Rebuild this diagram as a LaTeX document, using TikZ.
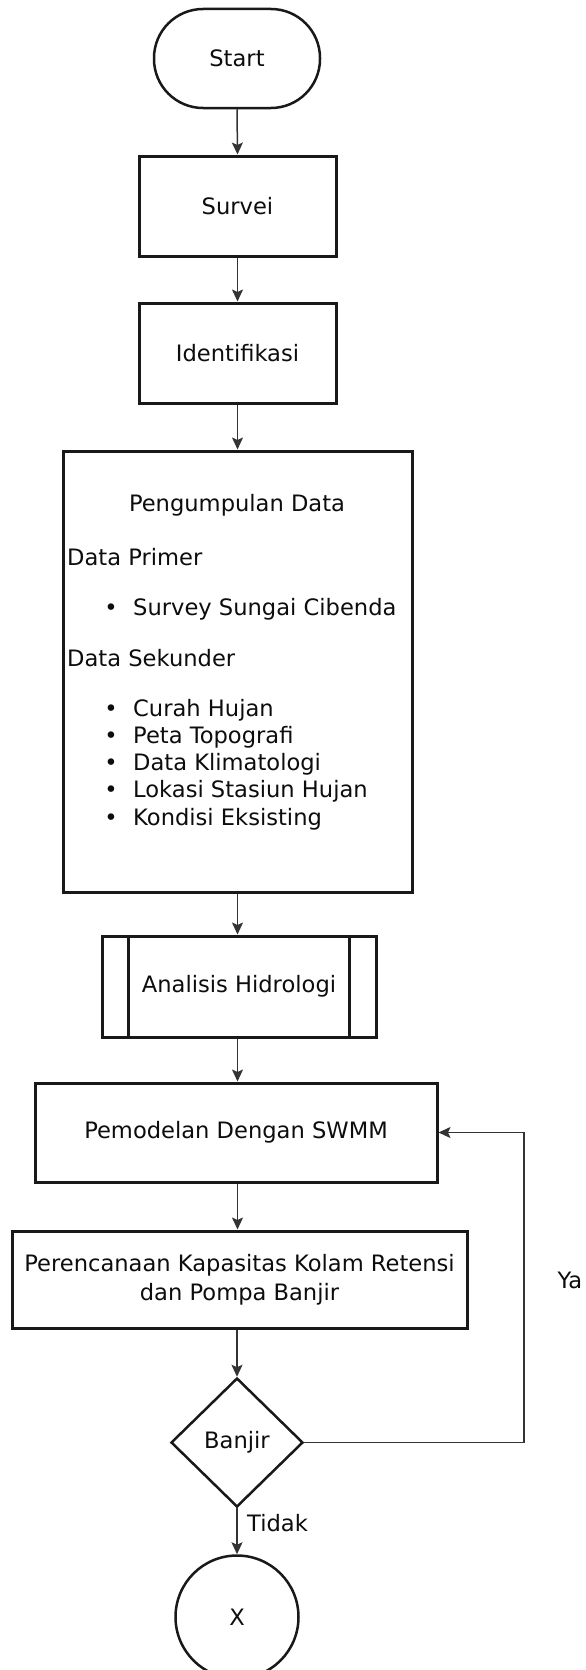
\documentclass[tikz,border=0pt]{standalone}
\usepackage{fontspec}
\setmainfont{DejaVu Sans}
\usetikzlibrary{shapes.geometric,arrows.meta,calc}
\begin{document}
\begin{tikzpicture}[x=1pt,y=-1pt,
  every node/.style={font=\fontsize{22.6}{27.3}\selectfont, text=black!95},
  boxnode/.style={draw=black!90, rectangle, line width=3pt, inner sep=0pt},
  conn/.style={line width=1.5pt, draw=black!80, -{Stealth[length=12pt,width=11pt,inset=2.5pt]}},
  txt/.style={inner sep=0pt, anchor=base west},
  bul/.style={inner sep=0pt, anchor=base}
]
\useasboundingbox (0,0) rectangle (586,1670);
\clip (0,0) rectangle (586,1670);
\fill[white] (0,0) rectangle (586,1670);

% nodes
\node[draw=black!90, line width=2.5pt, rectangle, rounded corners=49pt,
      minimum width=166pt, minimum height=99pt, inner sep=0pt] (st) at (237,58.5) {Start};
\node[boxnode, minimum width=197pt, minimum height=100pt] (sv) at (237.5,206) {Survei};
\node[boxnode, minimum width=197pt, minimum height=100pt] (id) at (237.5,353) {Identifikasi};
\node[boxnode, minimum width=349pt, minimum height=441pt] (pd) at (237.5,671.5) {};
\node[boxnode, minimum width=274pt, minimum height=101pt] (ah) at (239,986.5) {Analisis Hidrologi};
\draw[line width=3pt, draw=black!90] ($(ah.north west)+(28,1.5)$) -- ($(ah.south west)+(28,-1.5)$);
\draw[line width=3pt, draw=black!90] ($(ah.north east)+(-28,1.5)$) -- ($(ah.south east)+(-28,-1.5)$);
\node[boxnode, minimum width=402pt, minimum height=99pt] (pm) at (236,1132.5) {Pemodelan Dengan SWMM};
\node[boxnode, minimum width=455pt, minimum height=97pt, align=center] (pk) at (239.5,1279.5)
  {Perencanaan Kapasitas Kolam Retensi\\[2pt]dan Pompa Banjir};
\node[draw=black!90, line width=2.5pt, diamond, minimum width=132pt, minimum height=129pt, inner sep=0pt] (dec) at (237,1442.5) {Banjir};
\node[draw=black!90, line width=2.5pt, circle, minimum size=123pt, inner sep=0pt] (xc) at (237,1617) {X};

% text inside Pengumpulan Data
\node[bul] (t0) at (237,511) {Pengumpulan Data};
\node[txt] (t1) at (67,565) {Data Primer};
\node[bul] (b1) at (111,615) {•};
\node[txt] (t2) at (133,615) {Survey Sungai Cibenda};
\node[txt] (t3) at (67,666) {Data Sekunder};
\node[bul] (b2) at (111,716) {•};
\node[txt] (t4) at (133,716) {Curah Hujan};
\node[bul] (b3) at (111,743.3) {•};
\node[txt] (t5) at (133,743.3) {Peta Topografi};
\node[bul] (b4) at (111,770.6) {•};
\node[txt] (t6) at (133,770.6) {Data Klimatologi};
\node[bul] (b5) at (111,797.9) {•};
\node[txt] (t7) at (133,797.9) {Lokasi Stasiun Hujan};
\node[bul] (b6) at (111,825.2) {•};
\node[txt] (t8) at (133,825.2) {Kondisi Eksisting};

% connectors
\draw[conn] (st.south) -- (sv.north);
\draw[conn] (sv.south) -- (id.north);
\draw[conn] (id.south) -- (pd.north -| id.south);
\draw[conn] (pd.south -| id.south) -- (ah.north -| id.south);
\draw[conn] (ah.south -| id.south) -- (pm.north -| id.south);
\draw[conn] (pm.south -| id.south) -- (pk.north -| id.south);
\draw[conn] (pk.south -| dec.north) -- (dec.north);
\draw[conn] (dec.south) -- (xc.north);
\coordinate (lp) at (524,1442.5);
\draw[conn] (dec.east) -- (lp) |- (pm.east);

% labels
\node[txt] (tidak) at (247,1531) {Tidak};
\node[bul] (ya) at (570,1288) {Ya};
\end{tikzpicture}
\end{document}
